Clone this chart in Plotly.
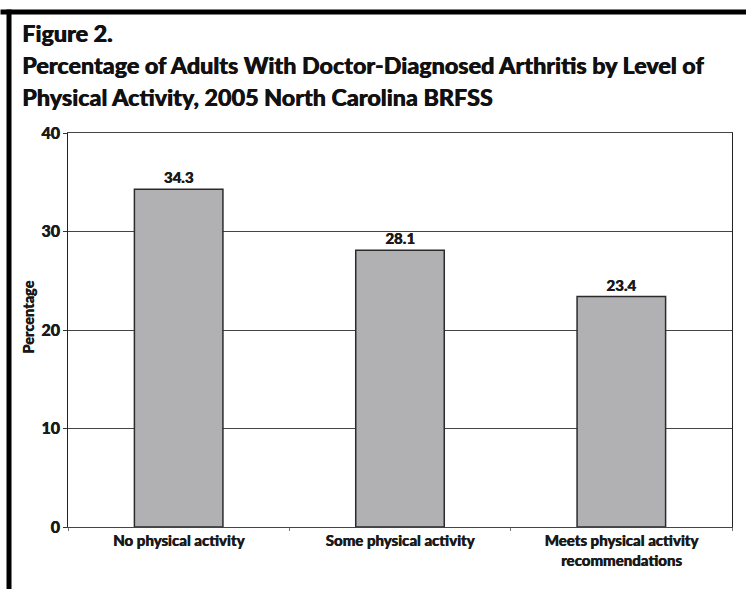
import plotly.graph_objects as go

# Data
categories = ["No physical activity", "Some physical activity",
              "Meets physical activity<br>recommendations"]
percentages = [34.3, 28.1, 23.4]
y_ticks = [0, 10, 20, 30, 40]

title_lines = [
    "Figure 2.",
    "Percentage of Adults With Doctor-Diagnosed Arthritis by Level of",
    "Physical Activity, 2005 North Carolina BRFSS",
]

W, H = 746, 589
L, R, T, B = 67.5, 14.3, 132.7, 62

FONT = "Lato"
HEAVY = 900
INK = "#1a1a1a"
# a hairline shadow in the text colour thickens the strokes slightly
THICK = "0.5px 0 0 " + INK

fig = go.Figure()
fig.add_trace(go.Bar(
    x=categories,
    y=percentages,
    width=0.4,
    marker=dict(color="#b1b1b4", line=dict(color="#2b2b2b", width=1.5)),
    text=[f"{v:.1f}" for v in percentages],
    textposition="outside",
    textfont=dict(family=FONT, size=15, color=INK, weight=HEAVY, shadow=THICK),
    cliponaxis=False,
))


def px_x(x):
    return (x - L) / (W - L - R)


def px_y(y):
    return (H - B - y) / (H - T - B)


annotations = []
title_centers = [33, 65, 97]
for line, yc in zip(title_lines, title_centers):
    annotations.append(dict(
        text=line, xref="paper", yref="paper",
        x=px_x(19), y=px_y(yc), xanchor="left", yanchor="middle",
        showarrow=False,
        font=dict(family=FONT, size=23.3, color="#111111", weight=HEAVY,
                  shadow="0.6px 0 0 #111111"),
    ))
annotations.append(dict(
    text="Percentage", xref="paper", yref="paper",
    x=px_x(28), y=px_y(317), xanchor="center", yanchor="middle",
    textangle=-90, showarrow=False,
    font=dict(family=FONT, size=14.5, color=INK, weight=HEAVY, shadow=THICK),
))

shapes = [
    # outer frame: top and left edges
    dict(type="rect", xref="paper", yref="paper",
         x0=px_x(0), x1=px_x(W + 5), y0=px_y(9), y1=px_y(14),
         fillcolor="black", line=dict(width=0), layer="above"),
    dict(type="rect", xref="paper", yref="paper",
         x0=px_x(6), x1=px_x(11), y0=px_y(H + 5), y1=px_y(9),
         fillcolor="black", line=dict(width=0), layer="above"),
]

fig.update_layout(
    width=W, height=H,
    margin=dict(l=L, r=R, t=T, b=B, pad=0),
    paper_bgcolor="white", plot_bgcolor="white",
    showlegend=False,
    annotations=annotations,
    shapes=shapes,
    xaxis=dict(
        type="category",
        tickson="boundaries",
        ticks="outside", ticklen=3, tickcolor="#777777", tickwidth=1,
        showline=True, linecolor="#444444", linewidth=1, mirror=True,
        showgrid=False,
        tickfont=dict(family=FONT, size=15, color=INK, weight=HEAVY,
                      shadow=THICK),
    ),
    yaxis=dict(
        range=[0, 40],
        tickvals=y_ticks,
        ticks="outside", ticklen=4, tickcolor="#333333",
        showline=True, linecolor="#222222", linewidth=1, mirror=True,
        showgrid=True, gridcolor="#444444", gridwidth=1,
        zeroline=False,
        tickfont=dict(family=FONT, size=16, color=INK, weight=HEAVY,
                      shadow=THICK),
    ),
)

fig.write_html("out.html")
